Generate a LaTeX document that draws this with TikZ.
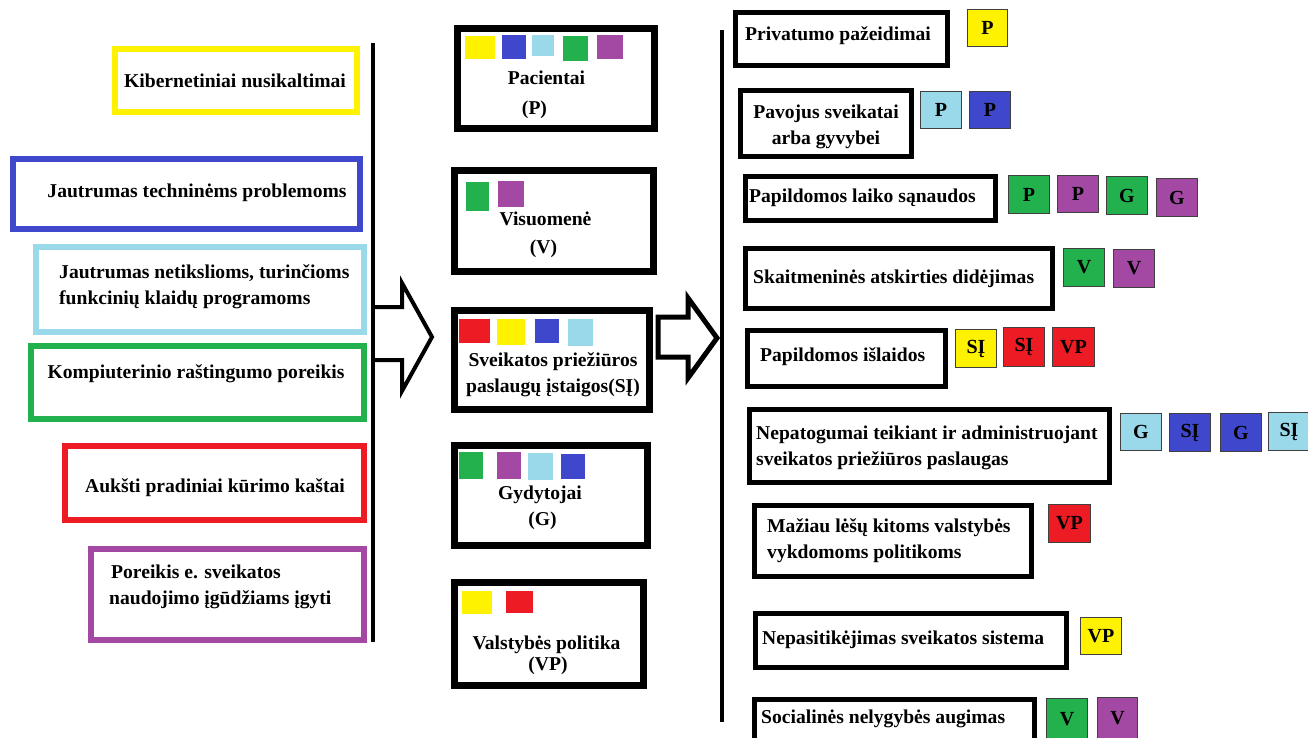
\documentclass[tikz,border=0pt]{standalone}
\usepackage{fontspec}
\setmainfont{Liberation Serif}
\definecolor{cy}{HTML}{FFF200}
\definecolor{cb}{HTML}{3F48CC}
\definecolor{cl}{HTML}{99D9EA}
\definecolor{cg}{HTML}{22B14C}
\definecolor{cr}{HTML}{ED1C24}
\definecolor{cp}{HTML}{A349A4}
\newcommand\bx[7]{\node[#2, minimum width={(#5-#3-#7)*1pt}, minimum height={(#6-#4-#7)*1pt}] (#1) at ({(#3+#5)/2},{(#4+#6)/2}) {};}
\newcommand\msq[6]{\node[sq=#2, minimum width={(#4-#3)*1pt}, minimum height={(#6-#5)*1pt}] (#1) at ({(#3+#4)/2},{(#5+#6)/2}) {};}
\newcommand\tg[7]{\node[tag=#2, minimum width={(#5-#3-1.2)*1pt}, minimum height={(#6-#4-1.2)*1pt}] (#1) at ({(#3+#5)/2},{(#4+#6)/2}) {#7};}
\begin{document}
\begin{tikzpicture}[x=1pt,y=-1pt,
  txt/.style={font=\bfseries\fontsize{19.6}{26}\selectfont, inner sep=0, align=left, text=black},
  lbox/.style={draw=#1, line width=6pt, inner sep=0},
  mbox/.style={draw=black, line width=7pt, inner sep=0},
  rbox/.style={draw=black, line width=5pt, inner sep=0},
  sq/.style={fill=#1, inner sep=0},
  tag/.style={fill=#1, draw=black!75, line width=1.2pt, inner sep=0, font=\bfseries\fontsize{20}{22}\selectfont},
  barline/.style={line width=4.5pt},
  blockarrow/.style={line width=#1, line join=miter},
]
\useasboundingbox (0,0) rectangle (1308,737);
% left column
\bx{kib}{lbox=cy}{112}{46}{360}{115}{6}
\bx{jt}{lbox=cb}{10}{156}{363}{232}{6}
\bx{jn}{lbox=cl}{33}{244}{367}{335}{6}
\bx{kr}{lbox=cg}{28}{343}{367}{422}{6}
\bx{ak}{lbox=cr}{62}{443}{367}{523}{6}
\bx{po}{lbox=cp}{88}{546}{367}{643}{6}
\node[txt] (kibt) at (235,81) {Kibernetiniai nusikaltimai};
\node[txt] (jtt) at (197,193) {Jautrumas techninėms problemoms};
\node[txt, anchor=west] (jnt) at (59,287) {Jautrumas netikslioms, turinčioms\\funkcinių klaidų programoms};
\node[txt] (krt) at (196,374) {Kompiuterinio raštingumo poreikis};
\node[txt] (akt) at (215,488) {Aukšti pradiniai kūrimo kaštai};
\node[txt, anchor=west] (pot) at (109,587) {\hspace{2pt}Poreikis e. sveikatos\\naudojimo įgūdžiams įgyti};
\coordinate (l1t) at (373,43);
\coordinate (l1b) at (373,642);
\draw[barline] (l1t) -- (l1b);
% left block arrow
\coordinate (a1) at (375,307);
\draw[blockarrow=4pt] (a1) -- (402,307) -- (402,283) -- (432,337) -- (402,391) -- (402,360) -- (375,360);
% middle column
\bx{pac}{mbox}{454}{25}{658}{132}{7}
\bx{vis}{mbox}{451}{167}{657}{275}{7}
\bx{si}{mbox}{451}{307}{653}{413}{7}
\bx{gyd}{mbox}{451}{442}{651}{549}{7}
\bx{vp}{mbox}{451}{579}{647}{689}{7}
\msq{p1}{cy}{465}{495}{36}{59}
\msq{p2}{cb}{502}{526}{35}{59}
\msq{p3}{cl}{532}{554}{35}{56}
\msq{p4}{cg}{563}{588}{36}{61}
\msq{p5}{cp}{597}{623}{35}{59}
\msq{v1}{cg}{466}{489}{182}{211}
\msq{v2}{cp}{498}{524}{181}{207}
\msq{s1}{cr}{459}{490}{319}{343}
\msq{s2}{cy}{497}{525}{319}{345}
\msq{s3}{cb}{535}{559}{319}{343}
\msq{s4}{cl}{568}{593}{319}{346}
\msq{g1}{cg}{459}{483}{452}{479}
\msq{g2}{cp}{497}{521}{452}{479}
\msq{g3}{cl}{528}{553}{453}{480}
\msq{g4}{cb}{561}{585}{454}{479}
\msq{q1}{cy}{462}{492}{591}{614}
\msq{q2}{cr}{506}{533}{591}{613}
\node[txt] (pact) at (546.5,78) {Pacientai};
\node[txt] (pacs) at (534.5,110) {(P)};
\node[txt] (vist) at (545.5,219) {Visuomenė};
\node[txt] (viss) at (543.5,249) {(V)};
\node[txt, align=center] (sit) at (553,375) {Sveikatos priežiūros\\paslaugų įstaigos(SĮ)};
\node[txt] (gydt) at (540,495) {Gydytojai};
\node[txt] (gyds) at (542.5,521) {(G)};
\node[txt] (vpt) at (546.5,645) {Valstybės politika};
\node[txt] (vps) at (548,666) {(VP)};
% right block arrow
\coordinate (a2) at (658,317);
\draw[blockarrow=5pt] (a2) -- (688,317) -- (688,298) -- (717,338) -- (688,378) -- (688,357) -- (658,357) -- cycle;
\coordinate (l2t) at (722,30);
\coordinate (l2b) at (722,722);
\draw[barline] (l2t) -- (l2b);
% right column
\bx{r1}{rbox}{733}{10}{950}{68}{5}
\bx{r2}{rbox}{738}{88}{914}{159}{5}
\bx{r3}{rbox}{743}{174}{998}{223}{5}
\bx{r4}{rbox}{743}{246}{1055}{311}{5}
\bx{r5}{rbox}{745}{328}{948}{389}{5}
\bx{r6}{rbox}{747}{407}{1112}{485}{5}
\bx{r7}{rbox}{752}{503}{1034}{579}{5}
\bx{r8}{rbox}{753}{611}{1069}{670}{5}
\bx{r9}{rbox}{752}{697}{1037}{745}{5}
\node[txt, anchor=west] (r1t) at (745,36) {Privatumo pažeidimai};
\node[txt, align=center] (r2t) at (826,127) {Pavojus sveikatai\\arba gyvybei};
\node[txt, anchor=west] (r3t) at (749,198) {Papildomos laiko sąnaudos};
\node[txt, anchor=west] (r4t) at (753,279) {Skaitmeninės atskirties didėjimas};
\node[txt, anchor=west] (r5t) at (760,357) {Papildomos išlaidos};
\node[txt, anchor=west] (r6t) at (756,448) {Nepatogumai teikiant ir administruojant\\sveikatos priežiūros paslaugas};
\node[txt, anchor=west] (r7t) at (767,541) {Mažiau lėšų kitoms valstybės\\vykdomoms politikoms};
\node[txt, anchor=west] (r8t) at (762,640) {Nepasitikėjimas sveikatos sistema};
\node[txt, anchor=west] (r9t) at (761,719) {Socialinės nelygybės augimas};
% tags
\tg{t1}{cy}{967}{9}{1008}{47}{P}
\tg{t2a}{cl}{920}{91}{962}{129}{P}
\tg{t2b}{cb}{969}{91}{1011}{129}{P}
\tg{t3a}{cg}{1008}{175}{1050}{214}{P}
\tg{t3b}{cp}{1057}{175}{1099}{213}{P}
\tg{t3c}{cg}{1106}{176}{1148}{215}{G}
\tg{t3d}{cp}{1156}{178}{1198}{217}{G}
\tg{t4a}{cg}{1063}{248}{1105}{287}{V}
\tg{t4b}{cp}{1113}{249}{1155}{288}{V}
\tg{t5a}{cy}{955}{329}{997}{368}{SĮ}
\tg{t5b}{cr}{1003}{327}{1045}{367}{SĮ}
\tg{t5c}{cr}{1052}{327}{1095}{367}{VP}
\tg{t6a}{cl}{1120}{413}{1162}{451}{G}
\tg{t6b}{cb}{1169}{413}{1211}{452}{SĮ}
\tg{t6c}{cb}{1220}{413}{1262}{452}{G}
\tg{t6d}{cl}{1268}{412}{1310}{451}{SĮ}
\tg{t7}{cr}{1048}{504}{1091}{543}{VP}
\tg{t8}{cy}{1080}{617}{1122}{655}{VP}
\tg{t9a}{cg}{1046}{698}{1088}{740}{V}
\tg{t9b}{cp}{1097}{697}{1138}{740}{V}
\end{tikzpicture}
\end{document}
